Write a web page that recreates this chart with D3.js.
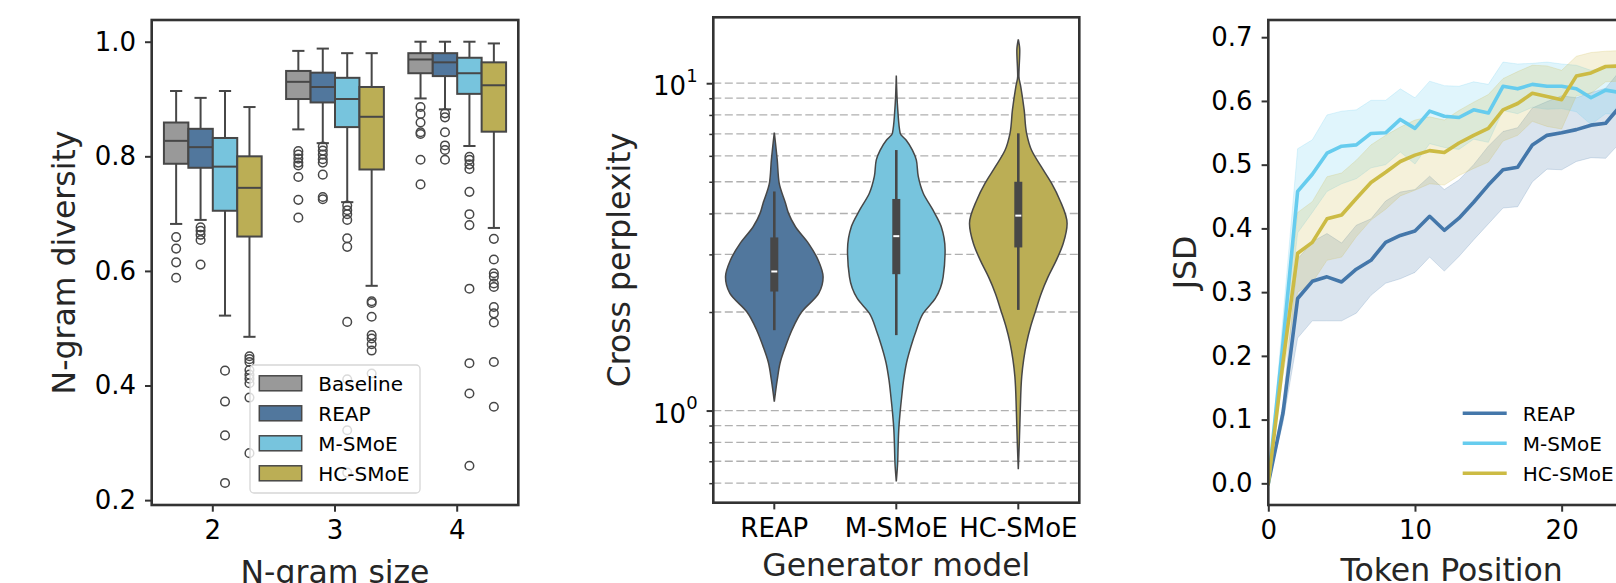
<!DOCTYPE html>
<html>
<head>
<meta charset="utf-8">
<script src="https://cdn.jsdelivr.net/npm/d3@7"></script>
<style>
  body { margin: 0; background: #fff; }
  svg { display: block; font-family: "DejaVu Sans", sans-serif; }
</style>
</head>
<body>
<div id="chart"></div>
<script>
// ---------- panel 1: n-gram diversity box plots ----------
const ngramSizes = ["2", "3", "4"];
const boxModels = ["Baseline", "REAP", "M-SMoE", "HC-SMoE"];
const boxColors = ["#999999", "#51779d", "#77c4dd", "#bbae55"];
// [lower whisker, q1, median, q3, upper whisker] for n = 2, 3, 4
const baselineBoxes = [[0.682, 0.787, 0.827, 0.859, 0.914], [0.847, 0.900, 0.930, 0.949, 0.984], [0.901, 0.945, 0.969, 0.980, 1.000]];
const reapBoxes = [[0.689, 0.780, 0.816, 0.848, 0.902], [0.823, 0.894, 0.921, 0.946, 0.988], [0.882, 0.940, 0.964, 0.980, 1.000]];
const msmoeBoxes = [[0.522, 0.705, 0.782, 0.832, 0.914], [0.720, 0.851, 0.900, 0.937, 0.980], [0.818, 0.909, 0.945, 0.972, 1.000]];
const hcsmoeBoxes = [[0.485, 0.660, 0.745, 0.800, 0.886], [0.574, 0.777, 0.869, 0.921, 0.980], [0.675, 0.843, 0.924, 0.964, 0.997]];
const baselineOutliers = [[0.659, 0.639, 0.615, 0.588], [0.809, 0.803, 0.796, 0.789, 0.784, 0.764, 0.724, 0.693], [0.886, 0.874, 0.859, 0.842, 0.839, 0.794, 0.751]];
const reapOutliers = [[0.676, 0.670, 0.663, 0.654, 0.611], [0.817, 0.810, 0.803, 0.795, 0.789, 0.768, 0.729, 0.725], [0.875, 0.868, 0.842, 0.819, 0.811, 0.794]];
const msmoeOutliers = [[0.426, 0.372, 0.313, 0.230], [0.714, 0.706, 0.699, 0.689, 0.657, 0.642, 0.511, 0.411, 0.322, 0.248], [0.799, 0.794, 0.786, 0.778, 0.738, 0.699, 0.680, 0.569, 0.439, 0.386, 0.260]];
const hcsmoeOutliers = [[0.451, 0.446, 0.441, 0.427, 0.419, 0.412, 0.404, 0.379, 0.282], [0.547, 0.544, 0.520, 0.488, 0.482, 0.472, 0.461, 0.421], [0.656, 0.620, 0.596, 0.590, 0.578, 0.572, 0.537, 0.526, 0.510, 0.441, 0.363]];
const diversityTicks = [0.2, 0.4, 0.6, 0.8, 1.0];

// ---------- panel 2: cross perplexity violins ----------
const violinModels = ["REAP", "M-SMoE", "HC-SMoE"];
const violinColors = ["#51779d", "#77c4dd", "#bbae55"];
// outline: value and relative half width
const reapViolinValues = [7.07, 5.83, 4.95, 4.30, 4.01, 3.65, 3.24, 2.88, 2.56, 2.42, 2.28, 2.0, 1.76, 1.57, 1.40, 1.24, 1.064];
const reapViolinWidths = [0, 0.06, 0.10, 0.23, 0.29, 0.43, 0.70, 0.90, 1.0, 0.98, 0.91, 0.56, 0.36, 0.23, 0.12, 0.06, 0];
const msmoeViolinValues = [10.55, 8.29, 7.03, 6.71, 6.25, 5.83, 5.19, 4.62, 4.10, 3.65, 3.09, 2.56, 2.2, 1.98, 1.76, 1.57, 1.40, 1.24, 1.10, 0.98, 0.873, 0.776, 0.690, 0.607];
const msmoeViolinWidths = [0, 0.03, 0.08, 0.20, 0.33, 0.41, 0.45, 0.55, 0.75, 0.92, 1.0, 0.96, 0.80, 0.55, 0.41, 0.30, 0.21, 0.15, 0.11, 0.076, 0.05, 0.037, 0.027, 0];
const hcsmoeViolinValues = [13.6, 12.6, 10.5, 9.77, 8.29, 7.03, 6.25, 5.56, 4.95, 4.40, 3.73, 3.24, 2.88, 2.56, 2.28, 2.03, 1.80, 1.61, 1.43, 1.27, 1.0, 0.794, 0.662];
const hcsmoeViolinWidths = [0, 0.03, 0.012, 0.05, 0.12, 0.17, 0.27, 0.47, 0.68, 0.85, 1.0, 0.92, 0.78, 0.61, 0.47, 0.36, 0.25, 0.17, 0.11, 0.07, 0.04, 0.02, 0];
// inner box: [lower whisker, q1, median, q3, upper whisker]
const violinBoxes = [[1.76, 2.31, 2.66, 3.38, 4.67], [1.70, 2.61, 3.41, 4.43, 6.25], [2.03, 3.15, 3.94, 5.00, 7.03]];
const perplexityGrid = [0.6, 0.7, 0.8, 0.9, 1, 2, 3, 4, 5, 6, 7, 8, 9, 10];

// ---------- panel 3: JSD by token position ----------
const lineModels = ["REAP", "M-SMoE", "HC-SMoE"];
const lineColors = ["#4477aa", "#66ccee", "#ccbb44"];
const tokenPositions = [0, 1, 2, 3, 4, 5, 6, 7, 8, 9, 10, 11, 12, 13, 14, 15, 16, 17, 18, 19, 20, 21, 22, 23, 24];
const reapJsd = [0, 0.11, 0.29, 0.317, 0.324, 0.316, 0.336, 0.350, 0.378, 0.389, 0.396, 0.419, 0.397, 0.416, 0.441, 0.468, 0.492, 0.496, 0.531, 0.546, 0.550, 0.555, 0.562, 0.565, 0.592];
const reapLow = [0, 0.095, 0.228, 0.255, 0.255, 0.255, 0.267, 0.295, 0.314, 0.321, 0.331, 0.355, 0.333, 0.356, 0.382, 0.407, 0.432, 0.434, 0.473, 0.493, 0.492, 0.505, 0.511, 0.510, 0.535];
const reapHigh = [0, 0.125, 0.352, 0.379, 0.392, 0.377, 0.405, 0.415, 0.443, 0.457, 0.461, 0.482, 0.461, 0.476, 0.500, 0.529, 0.552, 0.558, 0.589, 0.599, 0.608, 0.605, 0.613, 0.620, 0.648];
const msmoeJsd = [0, 0.22, 0.458, 0.485, 0.518, 0.529, 0.531, 0.549, 0.550, 0.571, 0.557, 0.584, 0.576, 0.574, 0.586, 0.581, 0.623, 0.619, 0.626, 0.623, 0.623, 0.619, 0.605, 0.617, 0.613];
const msmoeLow = [0, 0.19, 0.393, 0.425, 0.458, 0.470, 0.478, 0.495, 0.500, 0.520, 0.501, 0.533, 0.527, 0.524, 0.540, 0.535, 0.585, 0.580, 0.590, 0.587, 0.588, 0.583, 0.563, 0.580, 0.578];
const msmoeHigh = [0, 0.26, 0.525, 0.539, 0.578, 0.584, 0.586, 0.601, 0.601, 0.619, 0.605, 0.631, 0.624, 0.623, 0.630, 0.626, 0.661, 0.658, 0.659, 0.661, 0.658, 0.656, 0.648, 0.652, 0.650];
const hcsmoeJsd = [0, 0.19, 0.361, 0.378, 0.415, 0.421, 0.447, 0.472, 0.488, 0.505, 0.515, 0.522, 0.519, 0.534, 0.546, 0.557, 0.586, 0.596, 0.612, 0.607, 0.602, 0.639, 0.644, 0.654, 0.655];
const hcsmoeLow = [0, 0.17, 0.300, 0.315, 0.350, 0.355, 0.387, 0.413, 0.430, 0.451, 0.460, 0.470, 0.468, 0.483, 0.494, 0.504, 0.537, 0.546, 0.568, 0.560, 0.556, 0.608, 0.612, 0.630, 0.631];
const hcsmoeHigh = [0, 0.21, 0.425, 0.442, 0.481, 0.487, 0.507, 0.531, 0.546, 0.559, 0.570, 0.575, 0.570, 0.585, 0.598, 0.610, 0.635, 0.646, 0.656, 0.655, 0.648, 0.670, 0.676, 0.678, 0.679];
const jsdTicks = [0.0, 0.1, 0.2, 0.3, 0.4, 0.5, 0.6, 0.7];
const tokenTicks = [0, 10, 20];

const W = 1616, H = 583;
const tickFont = 26, labelFont = 31.5, legendFont = 20;
const spineColor = "#333", edgeColor = "#474747";

const svg = d3.select("#chart").append("svg")
  .attr("width", W).attr("height", H)
  .style("background-color", "#FFFFFF");

// strip the d3 defaults so ticks look like matplotlib's
function styleAxis(g) {
  g.attr("font-size", null).attr("font-family", null);
  g.select(".domain").remove();
  g.selectAll(".tick line").attr("stroke", spineColor).attr("stroke-width", 2);
  g.selectAll(".tick text").attr("font-size", tickFont).attr("fill", "#000");
}

function spines(x0, y0, x1, y1) {
  svg.append("rect")
    .attr("x", x0).attr("y", y0).attr("width", x1 - x0).attr("height", y1 - y0)
    .attr("fill", "none").attr("stroke", spineColor).attr("stroke-width", 2.6);
}

function yLabel(text, x, y) {
  svg.append("text")
    .attr("transform", "translate(" + x + "," + y + ") rotate(-90)")
    .attr("text-anchor", "middle").attr("font-size", labelFont).attr("fill", "#262626")
    .text(text);
}

function xLabel(text, x, y) {
  svg.append("text")
    .attr("x", x).attr("y", y)
    .attr("text-anchor", "middle").attr("font-size", labelFont).attr("fill", "#262626")
    .text(text);
}

// ================= panel 1 =================
const p1 = { left: 151.7, right: 518.3, top: 20, bottom: 505 };
const boxX = d3.scaleBand().domain(ngramSizes).range([p1.left, p1.right]).padding(0);
const boxY = d3.scaleLinear().domain([0.1915, 1.0379]).range([p1.bottom, p1.top]);
const bw = boxX.bandwidth();
const hueX = d3.scaleBand().domain(boxModels).range([0.1 * bw, 0.9 * bw]).padding(0);
const hw = hueX.bandwidth();

const boxSets = [baselineBoxes, reapBoxes, msmoeBoxes, hcsmoeBoxes];
const outlierSets = [baselineOutliers, reapOutliers, msmoeOutliers, hcsmoeOutliers];

const g1 = svg.append("g");
boxModels.forEach(function(m, mi) {
  ngramSizes.forEach(function(n, ni) {
    const s = boxSets[mi][ni];
    const x0 = boxX(n) + hueX(m);
    const cx = x0 + hw / 2;
    const grp = g1.append("g");
    // whiskers and caps
    [[s[0], s[1]], [s[3], s[4]]].forEach(function(seg) {
      grp.append("line").attr("x1", cx).attr("x2", cx)
        .attr("y1", boxY(seg[0])).attr("y2", boxY(seg[1]))
        .attr("stroke", edgeColor).attr("stroke-width", 2);
    });
    [s[0], s[4]].forEach(function(v) {
      grp.append("line").attr("x1", cx - hw / 4).attr("x2", cx + hw / 4)
        .attr("y1", boxY(v)).attr("y2", boxY(v))
        .attr("stroke", edgeColor).attr("stroke-width", 2);
    });
    grp.append("rect")
      .attr("x", x0).attr("width", hw)
      .attr("y", boxY(s[3])).attr("height", boxY(s[1]) - boxY(s[3]))
      .attr("fill", boxColors[mi]).attr("stroke", edgeColor).attr("stroke-width", 2);
    grp.append("line").attr("x1", x0).attr("x2", x0 + hw)
      .attr("y1", boxY(s[2])).attr("y2", boxY(s[2]))
      .attr("stroke", edgeColor).attr("stroke-width", 2);
    grp.selectAll("circle").data(outlierSets[mi][ni]).enter().append("circle")
      .attr("cx", cx).attr("cy", function(d) { return boxY(d); })
      .attr("r", 4.3).attr("fill", "none")
      .attr("stroke", edgeColor).attr("stroke-width", 1.5);
  });
});

svg.append("g").attr("transform", "translate(" + p1.left + ",0)")
  .call(d3.axisLeft(boxY).tickValues(diversityTicks).tickFormat(d3.format(".1f")).tickSize(6.7).tickPadding(9))
  .call(styleAxis);
svg.append("g").attr("transform", "translate(0," + p1.bottom + ")")
  .call(d3.axisBottom(boxX).tickSize(6.7).tickPadding(9))
  .call(styleAxis);

// legend
const leg1 = svg.append("g");
leg1.append("rect").attr("x", 250).attr("y", 365).attr("width", 170).attr("height", 128)
  .attr("rx", 4).attr("fill", "#fff").attr("fill-opacity", 0.8)
  .attr("stroke", "#d6d6d6").attr("stroke-width", 1.3);
boxModels.forEach(function(m, i) {
  const cy = 383.3 + i * 30;
  leg1.append("rect").attr("x", 259.3).attr("y", cy - 7.5).attr("width", 42.4).attr("height", 15)
    .attr("fill", boxColors[i]).attr("stroke", edgeColor).attr("stroke-width", 1.5);
  leg1.append("text").attr("x", 318.3).attr("y", cy).attr("dy", "0.36em")
    .attr("font-size", legendFont).attr("fill", "#000").text(m);
});

spines(p1.left, p1.top, p1.right, p1.bottom);
yLabel("N-gram diversity", 75, (p1.top + p1.bottom) / 2);
xLabel("N-gram size", (p1.left + p1.right) / 2, 583);

// ================= panel 2 =================
const p2 = { left: 713.3, right: 1079.3, top: 17.3, bottom: 502.7 };
const violX = d3.scaleBand().domain(violinModels).range([p2.left, p2.right]).padding(0);
const violY = d3.scaleLog().domain([0.523, 15.9]).range([p2.bottom, p2.top]);
const vhw = 0.4 * violX.bandwidth();

svg.append("g").selectAll("line").data(perplexityGrid).enter().append("line")
  .attr("x1", p2.left).attr("x2", p2.right)
  .attr("y1", function(d) { return violY(d); }).attr("y2", function(d) { return violY(d); })
  .attr("stroke", "#b0b0b0").attr("stroke-width", 1.3).attr("stroke-dasharray", "8,3.5");

const violinValues = [reapViolinValues, msmoeViolinValues, hcsmoeViolinValues];
const violinWidths = [reapViolinWidths, msmoeViolinWidths, hcsmoeViolinWidths];

violinModels.forEach(function(m, i) {
  const cx = violX(m) + violX.bandwidth() / 2;
  const pts = violinValues[i].map(function(v, k) { return { v: v, w: violinWidths[i][k] }; });
  const area = d3.area()
    .y(function(d) { return violY(d.v); })
    .x0(function(d) { return cx - d.w * vhw; })
    .x1(function(d) { return cx + d.w * vhw; })
    .curve(d3.curveMonotoneY);
  svg.append("path").attr("d", area(pts))
    .attr("fill", violinColors[i]).attr("stroke", edgeColor).attr("stroke-width", 1.5);
  const b = violinBoxes[i];
  svg.append("line").attr("x1", cx).attr("x2", cx)
    .attr("y1", violY(b[0])).attr("y2", violY(b[4]))
    .attr("stroke", edgeColor).attr("stroke-width", 2.6);
  svg.append("rect").attr("x", cx - 4).attr("width", 8)
    .attr("y", violY(b[3])).attr("height", violY(b[1]) - violY(b[3]))
    .attr("fill", edgeColor);
  svg.append("line").attr("x1", cx - 3).attr("x2", cx + 3)
    .attr("y1", violY(b[2])).attr("y2", violY(b[2]))
    .attr("stroke", "#fff").attr("stroke-width", 2);
});

const yMajor = svg.append("g").attr("transform", "translate(" + p2.left + ",0)")
  .call(d3.axisLeft(violY).tickValues([1, 10]).tickFormat("").tickSize(6.7).tickPadding(9))
  .call(styleAxis);
yMajor.selectAll(".tick text").each(function(d) {
  const t = d3.select(this);
  t.attr("x", -15.7).attr("dy", "0.45em");
  t.append("tspan").text("10");
  t.append("tspan").attr("font-size", 18).attr("dy", "-0.75em").text(d === 1 ? "0" : "1");
});
svg.append("g").attr("transform", "translate(" + p2.left + ",0)")
  .call(d3.axisLeft(violY).tickValues([0.6, 0.7, 0.8, 0.9, 2, 3, 4, 5, 6, 7, 8, 9]).tickFormat("").tickSize(4))
  .call(styleAxis)
  .selectAll(".tick line").attr("stroke-width", 1.5);
svg.append("g").attr("transform", "translate(0," + p2.bottom + ")")
  .call(d3.axisBottom(violX).tickSize(6.7).tickPadding(9))
  .call(styleAxis);

spines(p2.left, p2.top, p2.right, p2.bottom);
yLabel("Cross perplexity", 630, (p2.top + p2.bottom) / 2);
xLabel("Generator model", (p2.left + p2.right) / 2, 575.7);

// ================= panel 3 =================
const p3 = { left: 1268.3, right: 1635, top: 20, bottom: 505 };
const lineX = d3.scaleLinear().domain([0, 25]).range([p3.left, p3.right]);
const lineY = d3.scaleLinear().domain([-0.034, 0.727]).range([p3.bottom, p3.top]);

svg.append("clipPath").attr("id", "clip3").append("rect")
  .attr("x", p3.left).attr("y", p3.top).attr("width", p3.right - p3.left).attr("height", p3.bottom - p3.top);
const g3 = svg.append("g").attr("clip-path", "url(#clip3)");

const means = [reapJsd, msmoeJsd, hcsmoeJsd];
const lows = [reapLow, msmoeLow, hcsmoeLow];
const highs = [reapHigh, msmoeHigh, hcsmoeHigh];

lineModels.forEach(function(m, i) {
  const band = d3.area()
    .x(function(d) { return lineX(d); })
    .y0(function(d, k) { return lineY(lows[i][k]); })
    .y1(function(d, k) { return lineY(highs[i][k]); });
  g3.append("path").attr("d", band(tokenPositions))
    .attr("fill", lineColors[i]).attr("fill-opacity", 0.2)
    .attr("stroke", lineColors[i]).attr("stroke-opacity", 0.2).attr("stroke-width", 1);
});
lineModels.forEach(function(m, i) {
  const line = d3.line()
    .x(function(d) { return lineX(d); })
    .y(function(d, k) { return lineY(means[i][k]); });
  g3.append("path").attr("d", line(tokenPositions))
    .attr("fill", "none").attr("stroke", lineColors[i]).attr("stroke-width", 3.6)
    .attr("stroke-linejoin", "round").attr("stroke-linecap", "square");
});

svg.append("g").attr("transform", "translate(" + p3.left + ",0)")
  .call(d3.axisLeft(lineY).tickValues(jsdTicks).tickFormat(d3.format(".1f")).tickSize(6.7).tickPadding(9))
  .call(styleAxis);
svg.append("g").attr("transform", "translate(0," + p3.bottom + ")")
  .call(d3.axisBottom(lineX).tickValues(tokenTicks).tickFormat(d3.format("d")).tickSize(6.7).tickPadding(9))
  .call(styleAxis);

const leg3 = svg.append("g");
lineModels.forEach(function(m, i) {
  const cy = 413.3 + i * 30;
  leg3.append("line").attr("x1", 1462.7).attr("x2", 1506.7).attr("y1", cy).attr("y2", cy)
    .attr("stroke", lineColors[i]).attr("stroke-width", 3.6);
  leg3.append("text").attr("x", 1522.7).attr("y", cy).attr("dy", "0.36em")
    .attr("font-size", legendFont).attr("fill", "#000").text(m);
});

spines(p3.left, p3.top, p3.right, p3.bottom);
yLabel("JSD", 1196, (p3.top + p3.bottom) / 2);
xLabel("Token Position", (p3.left + p3.right) / 2, 581);
</script>
</body>
</html>
